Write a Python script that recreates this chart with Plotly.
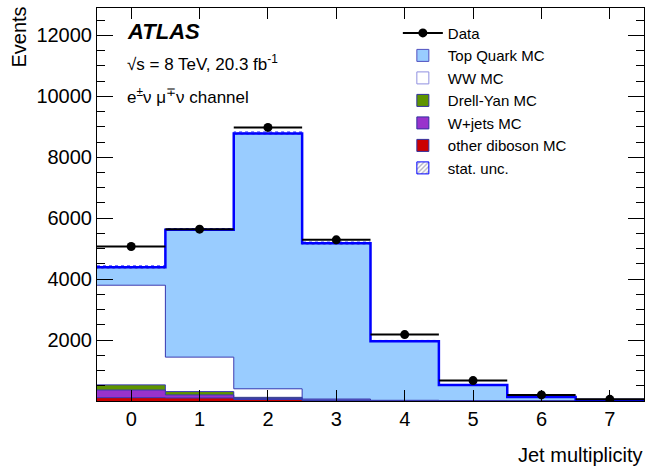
import plotly.graph_objects as go

# ---- data ----
jet_bins = [0, 1, 2, 3, 4, 5, 6, 7]
bin_edges = [-0.5, 0.5, 1.5, 2.5, 3.5, 4.5, 5.5, 6.5, 7.5]
other_diboson = [110, 100, 50, 15, 5, 2, 1, 0]
wjets = [250, 100, 30, 10, 5, 2, 1, 0]
drell_yan = [170, 110, 40, 15, 5, 2, 1, 0]
ww = [3270, 1130, 280, 25, 8, 3, 1, 0]
top_quark = [590, 4180, 8380, 5110, 1940, 520, 130, 30]
stat_unc = [45, 40, 50, 40, 25, 12, 6, 3]
data = [5070, 5640, 8980, 5290, 2180, 670, 200, 55]
data_err = [71, 75, 95, 73, 47, 26, 14, 7]
y_ticks = [2000, 4000, 6000, 8000, 10000, 12000]

components = [
    ("other diboson MC", other_diboson, "#CC0000"),
    ("W+jets MC", wjets, "#9933CC"),
    ("Drell-Yan MC", drell_yan, "#5E9400"),
    ("WW MC", ww, "#FFFFFF"),
    ("Top Quark MC", top_quark, "#99CCFF"),
]

fig = go.Figure()

base = [0] * len(jet_bins)
cum_levels = []
for name, vals, col in components:
    fig.add_trace(go.Bar(x=jet_bins, y=vals, base=base[:], width=1.0,
                         marker=dict(color=col, line=dict(width=0)),
                         opacity=1, showlegend=False, hoverinfo="skip"))
    base = [b + v for b, v in zip(base, vals)]
    cum_levels.append(base[:])

total = cum_levels[-1]

# boundary step lines
for lvl in cum_levels[:-1]:
    fig.add_trace(go.Scatter(x=bin_edges, y=lvl + [lvl[-1]], mode="lines",
                             line=dict(shape="hv", color="#3A3AB0", width=1),
                             showlegend=False, hoverinfo="skip"))

# stat unc hatched band
fig.add_trace(go.Bar(x=jet_bins, y=[2 * s for s in stat_unc],
                     base=[t - s for t, s in zip(total, stat_unc)], width=1.0,
                     marker=dict(color="rgba(0,0,0,0)", line=dict(width=0),
                                 pattern=dict(shape="/", fgcolor="#404060", bgcolor="rgba(0,0,0,0)",
                                              size=4, solidity=0.4)),
                     showlegend=False, hoverinfo="skip"))
fig.add_trace(go.Scatter(x=bin_edges, y=[t + s for t, s in zip(total, stat_unc)] + [total[-1] + stat_unc[-1]],
                         mode="lines", line=dict(shape="hv", color="#2020FF", width=1, dash="dot"),
                         showlegend=False, hoverinfo="skip"))

# total MC line
fig.add_trace(go.Scatter(x=bin_edges, y=total + [total[-1]], mode="lines",
                         line=dict(shape="hv", color="#0000FF", width=2.5),
                         showlegend=False, hoverinfo="skip"))

# data
fig.add_trace(go.Scatter(x=jet_bins, y=data, mode="markers",
                         marker=dict(color="black", size=9),
                         error_x=dict(type="constant", value=0.5, color="black", thickness=2, width=0),
                         error_y=dict(type="data", array=data_err, color="black", thickness=2, width=0),
                         showlegend=False))

# legend entries
fig.add_trace(go.Scatter(x=[None], y=[None], mode="lines+markers", name="Data",
                         marker=dict(color="black", size=9), line=dict(color="black", width=2),
                         legendrank=1))
leg_borders = {"Top Quark MC": "#5050C0", "WW MC": "#9090E0", "Drell-Yan MC": "#3030A0",
               "W+jets MC": "#3030A0", "other diboson MC": "#3030A0"}
rank = {"Top Quark MC": 2, "WW MC": 3, "Drell-Yan MC": 4, "W+jets MC": 5, "other diboson MC": 6}
for name, vals, col in components:
    fig.add_trace(go.Bar(x=[None], y=[None], name=name,
                         marker=dict(color=col, line=dict(color=leg_borders[name], width=1)),
                         legendrank=rank[name]))
fig.add_trace(go.Bar(x=[None], y=[None], name="stat. unc.",
                     marker=dict(color="rgba(0,0,0,0)", line=dict(color="#0000FF", width=1),
                                 pattern=dict(shape="/", fgcolor="#606080", bgcolor="white", size=4, solidity=0.4)),
                     legendrank=7))

font_family = "Liberation Sans, Arial, sans-serif"
fig.update_layout(
    width=646, height=469,
    margin=dict(l=97, r=2, t=8, b=68),
    barmode="overlay", bargap=0,
    plot_bgcolor="white", paper_bgcolor="white",
    font=dict(family=font_family, color="black", size=20),
    showlegend=True,
    legend=dict(x=0.55, y=0.978, xanchor="left", yanchor="top", bgcolor="rgba(0,0,0,0)",
                font=dict(size=15, family=font_family), traceorder="normal",
                itemwidth=40, tracegroupgap=0),
    xaxis=dict(range=[-0.5, 7.5], tickmode="array", tickvals=jet_bins, ticktext=[str(b) for b in jet_bins],
               ticks="inside", ticklen=11, tickcolor="black", showline=True, linecolor="black",
               linewidth=1, mirror="allticks", showgrid=False, zeroline=False,
               tickfont=dict(size=20)),
    yaxis=dict(range=[0, 12900], tickmode="array", tickvals=y_ticks, ticktext=[str(v) for v in y_ticks],
               ticks="inside", ticklen=16, tickcolor="black", showline=True, linecolor="black",
               linewidth=1, mirror="allticks", showgrid=False, zeroline=False,
               tickfont=dict(size=20),
               minor=dict(ticks="inside", ticklen=8, dtick=500, tick0=0, tickcolor="black", showgrid=False)),
    annotations=[
        dict(text="Events", textangle=-90, xref="paper", yref="paper", x=-0.1426, y=1.01,
             xanchor="center", yanchor="top", showarrow=False, font=dict(size=20)),
        dict(text="Jet multiplicity", xref="paper", yref="paper", x=1.0, y=-0.138,
             xanchor="right", yanchor="middle", showarrow=False, font=dict(size=20)),
        dict(text="<b><i>ATLAS</i></b>", xref="paper", yref="paper", x=0.051, y=0.941,
             xanchor="left", yanchor="middle", showarrow=False, font=dict(size=22)),
        dict(text="√s = 8 TeV, 20.3 fb<sup>-1</sup>", xref="paper", yref="paper", x=0.051, y=0.859,
             xanchor="left", yanchor="middle", showarrow=False, font=dict(size=17)),
        dict(text="e<sup>±</sup>ν μ<sup>∓</sup>ν channel", xref="paper", yref="paper", x=0.051, y=0.777,
             xanchor="left", yanchor="middle", showarrow=False, font=dict(size=17)),
    ],
)

fig.write_html("out.html")
